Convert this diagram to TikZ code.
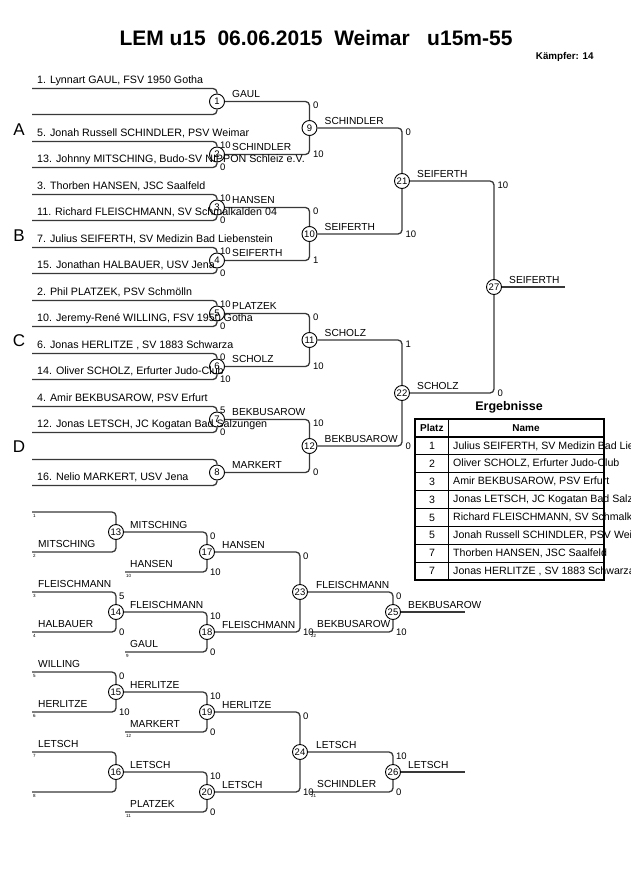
\documentclass[tikz,border=0pt]{standalone}
\usepackage{fontspec}
\setmainfont{Liberation Sans}
\begin{document}
\begin{tikzpicture}[x=1pt,y=-1pt,
 ln/.style={draw=black!78, line width=1.3pt, rounded corners=4pt},
 mc/.style={circle, draw=black, line width=0.9pt, fill=white, minimum size=15pt, inner sep=0pt, font=\fontsize{9.5}{10}\selectfont},
 ent/.style={anchor=base west, inner sep=0pt, font=\fontsize{10.7}{12}\selectfont},
 win/.style={anchor=base west, inner sep=0pt, font=\fontsize{10.2}{12}\selectfont},
 sc/.style={anchor=west, inner sep=0pt, font=\fontsize{9.5}{10}\selectfont},
 tiny/.style={anchor=west, inner sep=0pt, font=\fontsize{4.5}{5}\selectfont},
 pool/.style={font=\fontsize{17}{18}\selectfont},
 tb/.style={inner sep=0pt, font=\fontsize{10.6}{12}\selectfont},
]
\useasboundingbox (0,0) rectangle (630,891);

% ---------- title ----------
\node[font=\bfseries\fontsize{21}{24}\selectfont] (title) at (316,38) {LEM u15\ \ 06.06.2015\ \ Weimar\ \ \ u15m-55};
\node[anchor=east, font=\bfseries\fontsize{9.8}{10}\selectfont] (kaempfer) at (597,57) {Kämpfer: 14};

% ---------- main bracket circles ----------
\foreach \n/\y in {1/101.5,2/154.5,3/207.5,4/260.5,5/313.5,6/366.5,7/419.5,8/472.5}
  \node[mc] (m\n) at (217,\y) {\n};
\foreach \n/\y in {9/128,10/234,11/340,12/446}
  \node[mc] (m\n) at (309.5,\y) {\n};
\node[mc] (m21) at (402,181) {21};
\node[mc] (m22) at (402,393) {22};
\node[mc] (m27) at (494,287) {27};

% entrant lines
\foreach \n/\y in {1/101.5,2/154.5,3/207.5,4/260.5,5/313.5,6/366.5,7/419.5,8/472.5}{
  \coordinate (a\n) at (32,\y-13);
  \coordinate (b\n) at (32,\y+13);
  \draw[ln] (a\n) -| (m\n);
  \draw[ln] (b\n) -| (m\n);
}
\foreach \s/\t in {1/9,2/9,3/10,4/10,5/11,6/11,7/12,8/12,9/21,10/21,11/22,12/22,21/27,22/27}
  \draw[ln] (m\s) -| (m\t);
\coordinate (f27) at (565,287);
\draw[ln] (m27) -- (f27);

% entrant names
\node[ent] at (37,83.5) {1. Lynnart GAUL, FSV 1950 Gotha};
\node[ent] at (37,136.5) {5. Jonah Russell SCHINDLER, PSV Weimar};
\node[ent] at (37,162.5) {13. Johnny MITSCHING, Budo-SV NIPPON Schleiz e.V.};
\node[ent] at (37,189.5) {3. Thorben HANSEN, JSC Saalfeld};
\node[ent] at (37,215.5) {11. Richard FLEISCHMANN, SV Schmalkalden 04};
\node[ent] at (37,242.5) {7. Julius SEIFERTH, SV Medizin Bad Liebenstein};
\node[ent] at (37,268.5) {15. Jonathan HALBAUER, USV Jena};
\node[ent] at (37,295.5) {2. Phil PLATZEK, PSV Schmölln};
\node[ent] at (37,321.5) {10. Jeremy-René WILLING, FSV 1950 Gotha};
\node[ent] at (37,348.5) {6. Jonas HERLITZE , SV 1883 Schwarza};
\node[ent] at (37,374.5) {14. Oliver SCHOLZ, Erfurter Judo-Club};
\node[ent] at (37,401.5) {4. Amir BEKBUSAROW, PSV Erfurt};
\node[ent] at (37,427.5) {12. Jonas LETSCH, JC Kogatan Bad Salzungen};
\node[ent] at (37,480.5) {16. Nelio MARKERT, USV Jena};

% pool letters
\node[pool] at (19,130) {A};
\node[pool] at (19,235.5) {B};
\node[pool] at (19,341) {C};
\node[pool] at (19,446.5) {D};

% winner labels
\foreach \x/\y/\t in {232/97.5/GAUL,232/150.5/SCHINDLER,232/203.5/HANSEN,232/256.5/SEIFERTH,
  232/309.5/PLATZEK,232/362.5/SCHOLZ,232/415.5/BEKBUSAROW,232/468.5/MARKERT,
  324.5/124/SCHINDLER,324.5/230/SEIFERTH,324.5/336/SCHOLZ,324.5/442/BEKBUSAROW,
  417/177/SEIFERTH,417/389/SCHOLZ,509/283/SEIFERTH}
  \node[win] at (\x,\y) {\t};

% scores
\foreach \x/\y/\t in {220/145.5/10,220/167.5/0,220/198.5/10,220/220.5/0,220/251.5/10,220/273.5/0,
  220/304.5/10,220/326.5/0,220/357.5/0,220/379.5/10,220/410.5/5,220/432.5/0,
  313/105.5/0,313/154.5/10,313/211.5/0,313/260.5/1,313/317.5/0,313/366.5/10,313/423.5/10,313/472.5/0,
  405.5/132/0,405.5/234/10,405.5/344/1,405.5/446/0,497.5/185/10,497.5/393/0}
  \node[sc] at (\x,\y) {\t};

% ---------- results table ----------
\node[font=\bfseries\fontsize{12.5}{14}\selectfont] (erg) at (509,407) {Ergebnisse};
\draw[line width=0.8pt] (448,419) -- (448,580);
\foreach \k in {1,...,7}
  \draw[line width=0.8pt] (415,437+17.875*\k) -- (604,437+17.875*\k);
\draw[line width=1.4pt] (415,437) -- (604,437);
\draw[line width=1.8pt] (415,419) rectangle (604,580);
\node[tb, anchor=west, font=\bfseries\fontsize{10}{12}\selectfont] at (420,428) {Platz};
\node[tb, font=\bfseries\fontsize{10}{12}\selectfont] at (526,428) {Name};
\begin{scope}
\clip (0,0) rectangle (630,891);
\foreach \k/\p/\t in {1/1/{Julius SEIFERTH, SV Medizin Bad Liebenstein},
  2/2/{Oliver SCHOLZ, Erfurter Judo-Club},
  3/3/{Amir BEKBUSAROW, PSV Erfurt},
  4/3/{Jonas LETSCH, JC Kogatan Bad Salzungen},
  5/5/{Richard FLEISCHMANN, SV Schmalkalden 04},
  6/5/{Jonah Russell SCHINDLER, PSV Weimar},
  7/7/{Thorben HANSEN, JSC Saalfeld},
  8/7/{Jonas HERLITZE , SV 1883 Schwarza}}{
  \node[tb] at (432,437+17.875*\k-8.94) {\p};
  \node[tb, anchor=west] at (453,437+17.875*\k-8.94) {\t};
}
\end{scope}

% ---------- repechage ----------
\node[mc] (m13) at (116,532) {13};
\node[mc] (m17) at (207,552) {17};
\node[mc] (m14) at (116,612) {14};
\node[mc] (m18) at (207,632) {18};
\node[mc] (m23) at (300,592) {23};
\node[mc] (m25) at (393,612) {25};
\node[mc] (m15) at (116,692) {15};
\node[mc] (m19) at (207,712) {19};
\node[mc] (m16) at (116,772) {16};
\node[mc] (m20) at (207,792) {20};
\node[mc] (m24) at (300,752) {24};
\node[mc] (m26) at (393,772) {26};

\foreach \c/\x/\y/\m/\tn in {r13a/32/512/13/1, r13b/32/552/13/2, r17b/125/572/17/10,
  r14a/32/592/14/3, r14b/32/632/14/4, r18b/125/652/18/9, r25b/310/632/25/22,
  r15a/32/672/15/5, r15b/32/712/15/6, r19b/125/732/19/12,
  r16a/32/752/16/7, r16b/32/792/16/8, r20b/125/812/20/11, r26b/310/792/26/21}{
  \coordinate (\c) at (\x,\y);
  \draw[ln] (\c) -| (m\m);
  \node[tiny] at (\x+1,\y+3.5) {\tn};
}
\foreach \s/\t in {13/17,14/18,17/23,18/23,23/25,15/19,16/20,19/24,20/24,24/26}
  \draw[ln] (m\s) -| (m\t);
\coordinate (f25) at (465,612);
\coordinate (f26) at (465,772);
\draw[ln] (m25) -- (f25);
\draw[ln] (m26) -- (f26);

% repechage entrant names
\foreach \x/\y/\t in {38/547/MITSCHING,130/567/HANSEN,38/587/FLEISCHMANN,38/627/HALBAUER,
  130/647/GAUL,317/627/BEKBUSAROW,38/667/WILLING,38/707/HERLITZE,130/727/MARKERT,
  38/747/LETSCH,130/807/PLATZEK,317/787/SCHINDLER}
  \node[win] at (\x,\y) {\t};
% repechage winner labels
\foreach \x/\y/\t in {130/528/MITSCHING,222/548/HANSEN,130/608/FLEISCHMANN,222/628/FLEISCHMANN,
  316/588/FLEISCHMANN,408/608/BEKBUSAROW,130/688/HERLITZE,222/708/HERLITZE,
  130/768/LETSCH,222/788/LETSCH,316/748/LETSCH,408/768/LETSCH}
  \node[win] at (\x,\y) {\t};
% repechage scores
\foreach \x/\y/\t in {119/596/5,119/632/0,119/676/0,119/712/10,
  210/536/0,210/572/10,210/616/10,210/652/0,210/696/10,210/732/0,210/776/10,210/812/0,
  303/556/0,303/632/10,303/716/0,303/792/10,396/596/0,396/632/10,396/756/10,396/792/0}
  \node[sc] at (\x,\y) {\t};
\end{tikzpicture}
\end{document}
